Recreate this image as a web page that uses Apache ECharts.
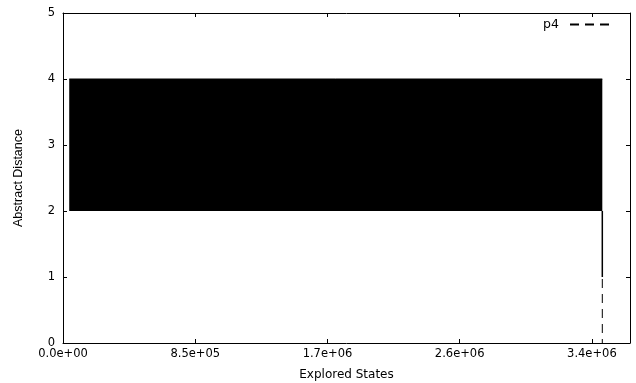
<!DOCTYPE html>
<html>
<head>
<meta charset="utf-8">
<script src="https://cdn.jsdelivr.net/npm/echarts@6/dist/echarts.min.js"></script>
<style>
  html, body { margin: 0; padding: 0; background: #fff; }
  #chart { width: 636px; height: 383px; }
</style>
</head>
<body>
<div id="chart"></div>
<script>
// axis ranges and ticks
const xTicks = [0, 850000, 1700000, 2550000, 3400000];
const xMax = 3645000;
const yMax = 5;

// p4 swings between 2 and 4 so densely that it prints as a solid band
const bandStates = [40000, 3467000];
const bandUpper = [4, 4];
const bandLower = 2;

// end of the trace: overdrawn drop from 2 to 1, then a dashed fall to 0
const dropStates = [3467000, 3467000];
const dropDist = [2, 1];
const tailStates = [3467000, 3467000];
const tailDist = [1, 0];

const WIDE = "DejaVu Sans, Verdana, sans-serif";
const NARROW = "Liberation Sans, Arial, Helvetica, sans-serif";

const sci = (v) => {
  const [m, e] = v.toExponential(1).split("e");
  const n = Math.abs(Number(e));
  return m + "e" + (Number(e) < 0 ? "-" : "+") + String(n).padStart(2, "0");
};

const zip = (xs, ys) => xs.map((x, i) => [x, ys[i]]);

const chart = echarts.init(document.getElementById("chart"), null, { renderer: "canvas" });

const axisLine = { show: true, onZero: false, lineStyle: { color: "#000", width: 1 } };
const tickIn = { show: true, inside: true, length: 4, lineStyle: { color: "#000" } };
const tickText = { color: "#000", fontFamily: WIDE, fontSize: 11.5 };

const xBase = {
  type: "value",
  min: 0,
  max: xMax,
  interval: 850000,
  axisLine,
  axisTick: tickIn,
  splitLine: { show: false },
};
const yBase = {
  type: "value",
  min: 0,
  max: yMax,
  interval: 1,
  axisLine,
  axisTick: tickIn,
  splitLine: { show: false },
};

const options = {
  backgroundColor: "#fff",
  animation: false,
  grid: {
    left: 63,
    right: 6,
    top: 13,
    bottom: 40,
    containLabel: false,
    outerBoundsMode: "none",
  },
  legend: {
    data: ["p4"],
    right: 25,
    top: 18,
    padding: 0,
    align: "right",
    itemWidth: 42,
    itemHeight: 10,
    textStyle: { color: "#000", fontFamily: WIDE, fontSize: 12.5, padding: [0, 4, 0, 0] },
    itemStyle: { opacity: 0 },
  },
  xAxis: [
    {
      ...xBase,
      position: "bottom",
      name: "Explored States",
      nameLocation: "middle",
      nameGap: 26,
      nameTextStyle: { color: "#000", fontFamily: WIDE, fontSize: 12 },
      axisLabel: {
        ...tickText,
        margin: 5,
        showMaxLabel: false,
        formatter: (v) => (xTicks.includes(v) ? sci(v) : ""),
      },
    },
    { ...xBase, position: "top", axisLabel: { show: false } },
  ],
  yAxis: [
    {
      ...yBase,
      position: "left",
      name: "Abstract Distance",
      nameLocation: "middle",
      nameGap: 38,
      nameTextStyle: { color: "#000", fontFamily: NARROW, fontSize: 12.5 },
      axisLabel: { ...tickText, margin: 8 },
    },
    { ...yBase, position: "right", axisLabel: { show: false } },
  ],
  series: [
    {
      name: "p4",
      type: "line",
      xAxisIndex: 0,
      yAxisIndex: 0,
      data: zip(tailStates, tailDist),
      symbol: "none",
      lineStyle: { color: "#000", width: 1, type: [9, 6], dashOffset: 13 },
      itemStyle: { color: "#000" },
    },
    {
      name: "p4",
      type: "line",
      data: zip(bandStates, bandUpper),
      symbol: "none",
      lineStyle: { color: "#000", width: 1 },
      areaStyle: { color: "#000", opacity: 1, origin: bandLower },
    },
    {
      name: "p4",
      type: "line",
      data: zip(dropStates, dropDist),
      symbol: "none",
      lineStyle: { color: "#000", width: 1.5 },
    },
  ],
};

chart.setOption(options);
</script>
</body>
</html>
